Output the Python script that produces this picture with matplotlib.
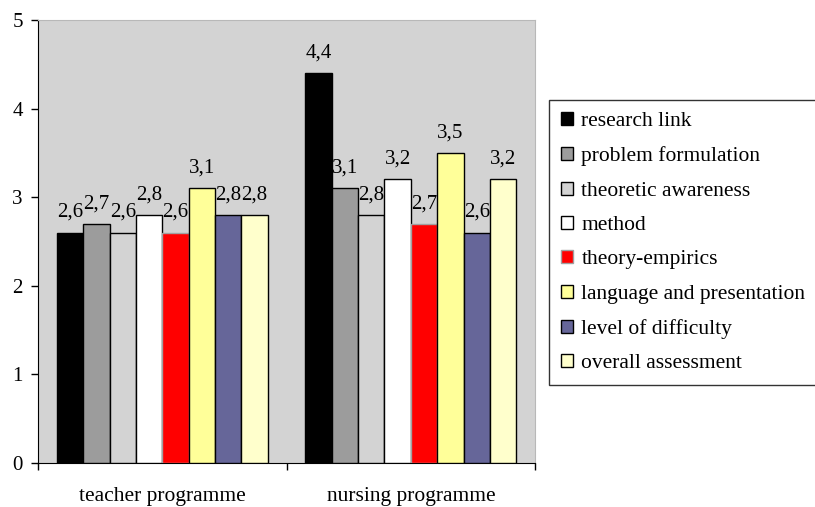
import numpy as np
import matplotlib
matplotlib.use('Agg')
import matplotlib.pyplot as plt

plt.rcParams['font.family'] = ['Liberation Serif', 'DejaVu Serif']

programmes = ['teacher programme', 'nursing programme']
criteria = ['research link', 'problem formulation', 'theoretic awareness', 'method',
            'theory-empirics', 'language and presentation', 'level of difficulty',
            'overall assessment']
teacher = [2.6, 2.7, 2.6, 2.8, 2.6, 3.1, 2.8, 2.8]
nursing = [4.4, 3.1, 2.8, 3.2, 2.7, 3.5, 2.6, 3.2]
colors = ['#000000', '#9C9C9C', '#D3D3D3', '#FFFFFF', '#FF0000', '#FFFF99', '#666699', '#FFFFCC']
edges = ['#000000', '#000000', '#000000', '#000000', '#A0A0A0', '#000000', '#000000', '#000000']

values = np.array([teacher, nursing])

fig = plt.figure(figsize=(8.15, 5.07), dpi=100)
ax = fig.add_axes([0.0466, 0.0868, 0.6100, 0.8738])
ax.set_facecolor('#D3D3D3')

barw = 0.106
x0 = np.arange(len(programmes)) + 0.5
for k in range(len(criteria)):
    xpos = x0 + (k - 3.5) * barw
    ax.bar(xpos, values[:, k], width=barw, color=colors[k], edgecolor=edges[k],
           linewidth=1.0, label=criteria[k], zorder=3)
    # value labels with decimal comma
    for xx, v in zip(xpos, values[:, k]):
        ax.text(xx, v + 0.12, ('%.1f' % v).replace('.', ','), ha='center', va='bottom',
                fontsize=15, zorder=4)

ax.set_xlim(0, 2)
ax.set_ylim(0, 5)
ax.set_yticks([0, 1, 2, 3, 4, 5])
ax.set_yticklabels(['0', '1', '2', '3', '4', '5'], fontsize=15)
ax.set_xticks([0, 1, 2])
ax.set_xticklabels([])
ax.set_xticks(x0, minor=True)
ax.set_xticklabels(programmes, minor=True, fontsize=15.5)
ax.tick_params(axis='x', which='minor', length=0, pad=17)
ax.tick_params(axis='x', which='major', length=5, direction='out', width=1)
ax.tick_params(axis='y', length=5, direction='out', width=1, pad=6)
for s in ['top', 'right']:
    ax.spines[s].set_color('#B8B8B8')
for s in ['left', 'bottom']:
    ax.spines[s].set_color('black')

leg = ax.legend(loc='upper left', bbox_to_anchor=(1.028, 0.819), frameon=True,
                fancybox=False, edgecolor='black', fontsize=15.5, handlelength=0.55,
                handleheight=0.55, handletextpad=0.4, labelspacing=0.71,
                borderpad=0.55, borderaxespad=0)
leg.get_frame().set_linewidth(1.0)

plt.savefig('out.png', dpi=100)
